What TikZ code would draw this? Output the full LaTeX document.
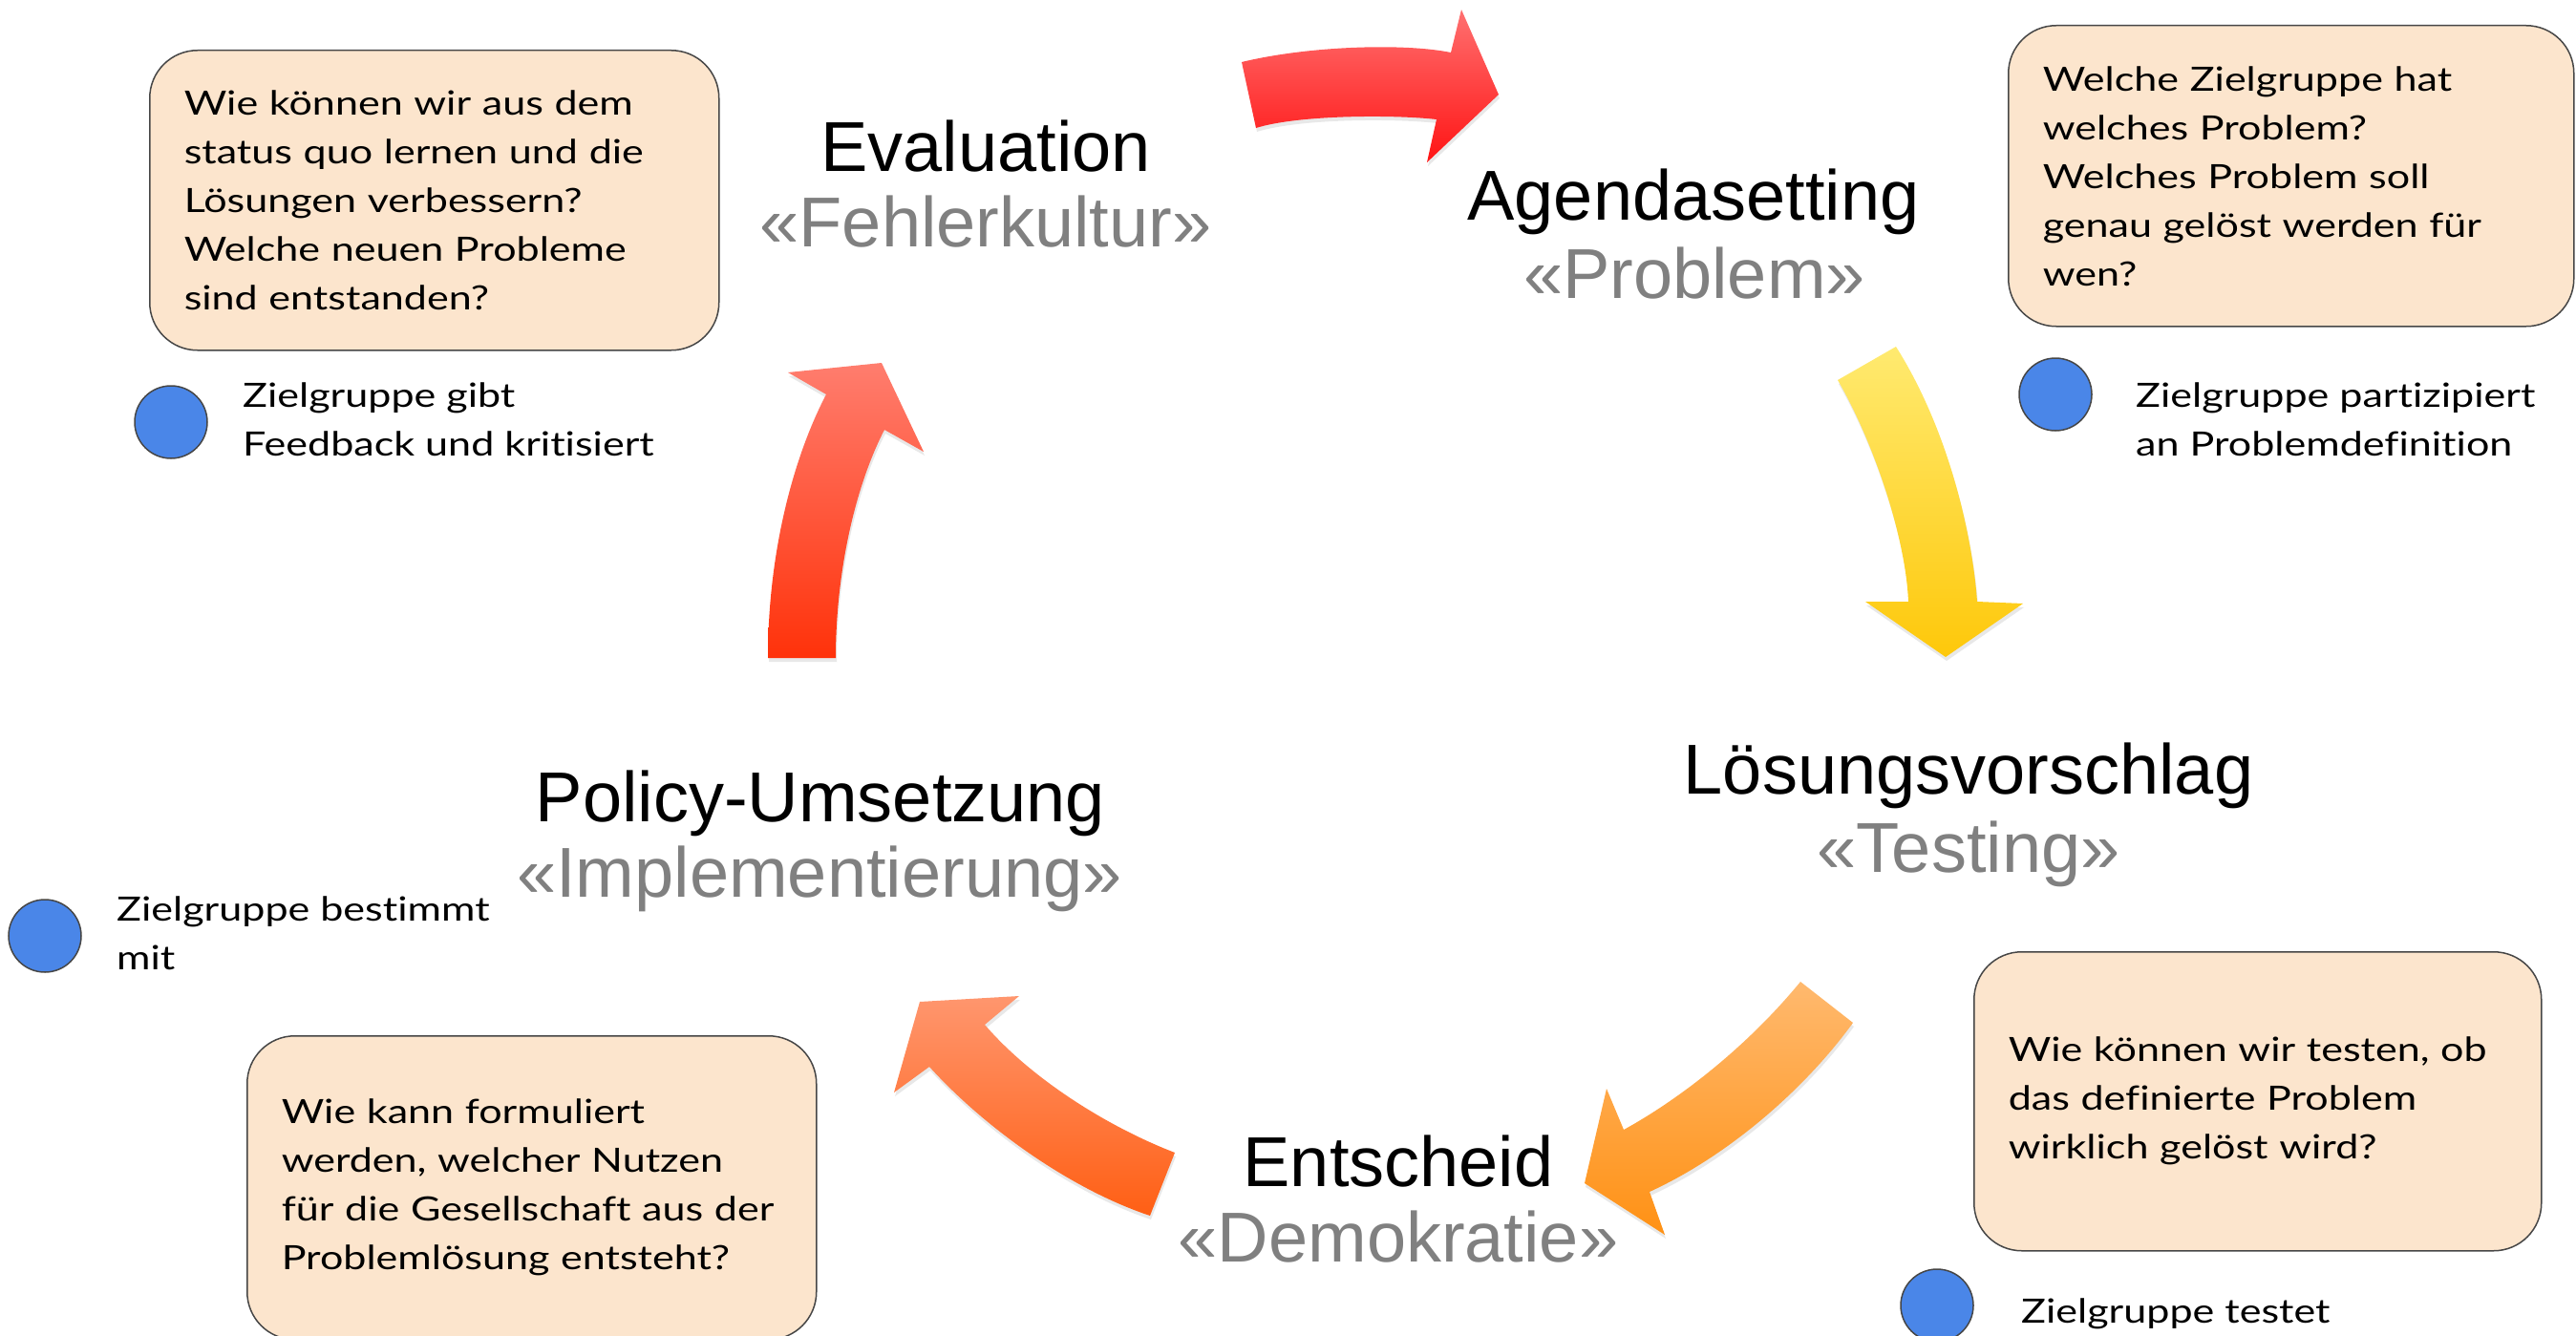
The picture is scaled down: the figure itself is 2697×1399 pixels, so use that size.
\documentclass[tikz,border=0pt]{standalone}
\usepackage{fontspec}
\setmainfont{Lato}
\newfontfamily\bodyfam[FakeStretch=1.23,Ligatures=NoCommon]{Lato}
\newfontfamily\headfont{Liberation Sans}
\usetikzlibrary{shadows}
\definecolor{boxfill}{RGB}{252,229,205}
\definecolor{boxline}{RGB}{70,70,70}
\definecolor{dotblue}{RGB}{74,134,232}
\definecolor{subgray}{RGB}{128,128,128}
\newcommand{\bodyfont}{\bodyfam\fontsize{35pt}{51pt}\selectfont}
\newcommand{\titlefont}{\headfont\fontsize{74pt}{80pt}\selectfont}
\begin{document}
\begin{tikzpicture}[x=1pt,y=-1pt,
  qbox/.style={draw=boxline, line width=1.5pt, fill=boxfill, rounded corners=50pt,
    inner xsep=36pt, inner ysep=0pt, align=left, font=\bodyfont, anchor=north west},
  dot/.style={circle, draw=boxline, line width=1.5pt, fill=dotblue, minimum size=76pt, inner sep=0pt},
  lbl/.style={font=\bodyfont, align=left, anchor=base west, inner sep=0pt},
  ttl/.style={font=\titlefont, inner sep=0pt, anchor=base},
  sub/.style={ttl, text=subgray},
  blockarrow/.style={shading=axis, drop shadow={shadow xshift=1pt, shadow yshift=-4pt, opacity=0.18}}
]
\useasboundingbox (0,0) rectangle (2697,1399);

% question boxes
\node[qbox, minimum width=596pt, minimum height=314pt, text width=524pt] (q1) at (156,52)
  {Wie können wir aus dem\\status quo lernen und die\\Lösungen verbessern?\\Welche neuen Probleme\\sind entstanden?};
\node[qbox, minimum width=592pt, minimum height=315pt, text width=520pt] (q2) at (2102,26)
  {Welche Zielgruppe hat\\welches Problem?\\Welches Problem soll\\genau gelöst werden für\\wen?};
\node[qbox, minimum width=594pt, minimum height=313pt, text width=522pt] (q3) at (2066,996)
  {Wie können wir testen, ob\\das definierte Problem\\wirklich gelöst wird?};
\node[qbox, minimum width=596pt, minimum height=318pt, text width=524pt] (q4) at (258,1084)
  {Wie kann formuliert\\werden, welcher Nutzen\\für die Gesellschaft aus der\\Problemlösung entsteht?};

% participation dots and labels (base = baseline of last line)
\node[dot] (c1) at (179,442) {};
\node[lbl] (l1) at (254,477) {Zielgruppe gibt\\Feedback und kritisiert};
\node[dot] (c2) at (2152,413) {};
\node[lbl] (l2) at (2236,477) {Zielgruppe partizipiert\\an Problemdefinition};
\node[dot] (c3) at (47,980) {};
\node[lbl] (l3) at (122,1015) {Zielgruppe bestimmt\\mit};
\node[dot] (c4) at (2028,1367) {};
\node[lbl] (l4) at (2116,1385) {Zielgruppe testet};

% phase titles
\node[ttl] (t1) at (1032,179) {Evaluation};
\node[sub] (s1) at (1032,258) {«Fehlerkultur»};
\node[ttl] (t2) at (1773,230) {Agendasetting};
\node[sub] (s2) at (1774,312) {«Problem»};
\node[ttl] (t3) at (2061,831) {Lösungsvorschlag};
\node[sub] (s3) at (2061,913) {«Testing»};
\node[ttl] (t4) at (859,860) {Policy-Umsetzung};
\node[sub] (s4) at (858,939) {«Implementierung»};
\node[ttl] (t5) at (1464,1242) {Entscheid};
\node[sub] (s5) at (1464,1321) {«Demokratie»};

% curved block arrows
\path[blockarrow, top color={rgb,255:red,255;green,112;blue,112}, bottom color={rgb,255:red,255;green,20;blue,20}]
  (1315,134) -- (1300,65) .. controls (1370,48) and (1470,45) .. (1519,55)
  -- (1530,10) -- (1569,99) -- (1494,170) -- (1504,125)
  .. controls (1460,120) and (1360,120) .. (1315,134) -- cycle;
\path[blockarrow, top color={rgb,255:red,255;green,234;blue,112}, bottom color={rgb,255:red,254;green,200;blue,10}]
  (1985,363) -- (1924,398) .. controls (1960,460) and (1995,560) .. (1998,630)
  -- (1953,630) -- (2037,688) -- (2118,632) -- (2070,630)
  .. controls (2065,560) and (2040,450) .. (1985,363) -- cycle;
\path[blockarrow, top color={rgb,255:red,255;green,185;blue,110}, bottom color={rgb,255:red,255;green,145;blue,20}]
  (1940,1071) -- (1885,1028) .. controls (1830,1095) and (1760,1150) .. (1700,1183)
  -- (1682,1140) -- (1659,1239) -- (1743,1293) -- (1727,1248)
  .. controls (1810,1210) and (1890,1140) .. (1940,1071) -- cycle;
\path[blockarrow, top color={rgb,255:red,255;green,150;blue,110}, bottom color={rgb,255:red,255;green,95;blue,20}]
  (1204,1273) -- (1230,1207) .. controls (1160,1180) and (1080,1130) .. (1031,1073)
  -- (1067,1043) -- (963,1049) -- (936,1144) -- (973,1117)
  .. controls (1030,1180) and (1120,1245) .. (1204,1273) -- cycle;
\path[blockarrow, top color={rgb,255:red,255;green,125;blue,110}, bottom color={rgb,255:red,255;green,50;blue,10}]
  (875,689) -- (804,689) .. controls (804,580) and (830,480) .. (865,413)
  -- (825,390) -- (923,380) -- (967,473) -- (926,450)
  .. controls (895,510) and (875,600) .. (875,689) -- cycle;
\end{tikzpicture}
\end{document}
